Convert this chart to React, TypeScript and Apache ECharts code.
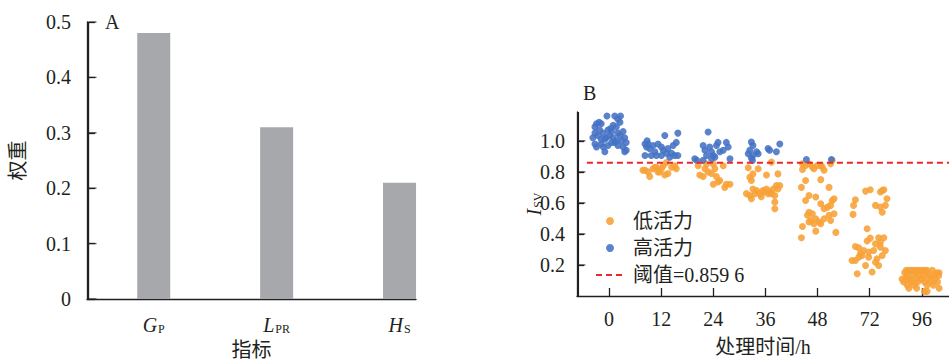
import React, { useEffect, useRef } from "react";
import * as echarts from "echarts";

// ---- Panel A: indicator weights ----
const indicatorMain = ["G", "L", "H"];
const indicatorSub = ["P", "PR", "S"];
const weights = [0.48, 0.31, 0.21];
const weightTicks = [0, 0.1, 0.2, 0.3, 0.4, 0.5];

// ---- Panel B: I_SV by treatment time ----
const hours = ["0", "12", "24", "36", "48", "72", "96"];
const isvTicks = [0.2, 0.4, 0.6, 0.8, 1.0];
const threshold = 0.8596;

// each point: [offset within the time group, I_SV]
const high0 = [
  [-0.24, 1.11], [-0.27, 1.09], [-0.19, 1.12], [-0.15, 1.11], [-0.04, 1.16], [0.11, 1.16],
  [0.22, 1.16], [0.17, 1.14], [0.21, 1.12], [0.08, 1.1], [0.14, 1.09], [0.03, 1.08],
  [-0.27, 1.05], [-0.21, 1.035], [-0.11, 1.05], [-0.05, 1.02], [0.01, 1.035], [-0.08, 1.01],
  [0.08, 1.02], [0.17, 1.05], [0.27, 1.06], [0.3, 1.02], [0.24, 1.0], [-0.27, 0.98],
  [-0.24, 0.96], [-0.15, 0.98], [-0.02, 0.97], [0.11, 0.99], [0.17, 0.97], [0.27, 0.96],
  [-0.08, 0.93], [0.3, 0.93], [0.33, 0.94], [0.14, 1.0], [-0.15, 1.01], [0.05, 1.06],
  [0.21, 1.035], [-0.18, 1.07], [-0.31, 1.02], [-0.02, 1.07], [-0.11, 0.96], [0.05, 0.99],
  [0.33, 0.99],
];
const high12 = [
  [-0.31, 0.98], [-0.27, 1.0], [-0.28, 0.96], [-0.22, 0.95], [-0.155, 0.97], [-0.06, 0.98],
  [0.005, 0.96], [0.07, 1.035], [0.04, 0.94], [0.13, 0.95], [0.2, 0.92], [0.23, 0.97],
  [0.29, 0.99], [0.32, 1.05], [-0.31, 0.906], [-0.19, 0.906], [-0.09, 0.906], [0.005, 0.906],
  [0.1, 0.92], [0.26, 0.906], [0.32, 0.906], [0.165, 0.895], [-0.25, 0.98], [-0.12, 0.93],
];
const low12 = [
  [-0.35, 0.81], [-0.25, 0.8], [-0.22, 0.77], [-0.155, 0.82], [-0.09, 0.83], [-0.06, 0.8],
  [0.005, 0.82], [0.07, 0.78], [0.13, 0.79], [0.2, 0.83], [0.26, 0.84], [0.29, 0.82],
  [0.04, 0.84], [0.1, 0.86], [-0.31, 0.81], [-0.12, 0.83], [-0.03, 0.8],
];
const high24 = [
  [-0.355, 0.885], [-0.32, 0.875], [-0.195, 0.97], [-0.16, 0.94], [-0.13, 0.906], [-0.07, 0.96],
  [-0.035, 0.93], [0.0, 0.906], [-0.1, 1.057], [0.06, 0.97], [0.09, 0.99], [0.125, 0.93],
  [0.19, 0.94], [0.25, 0.99], [0.285, 0.96], [0.32, 0.885], [0.03, 0.895], [-0.195, 0.875],
  [-0.035, 0.885],
];
const low24 = [
  [-0.29, 0.84], [-0.26, 0.78], [-0.16, 0.82], [-0.13, 0.85], [-0.1, 0.8], [-0.035, 0.79],
  [0.0, 0.85], [0.03, 0.82], [0.0, 0.72], [0.09, 0.735], [0.125, 0.745], [0.19, 0.84],
  [0.22, 0.7], [0.25, 0.72], [0.32, 0.72], [-0.195, 0.77], [0.06, 0.77],
];
const high36 = [
  [-0.33, 0.917], [-0.3, 0.94], [-0.27, 0.992], [-0.24, 0.97], [-0.27, 0.89], [-0.17, 0.93],
  [-0.14, 0.917], [-0.25, 0.874], [0.05, 0.95], [0.08, 0.94], [0.21, 0.93], [0.275, 0.98],
  [-0.24, 0.906],
];
const low36 = [
  [-0.33, 0.827], [-0.3, 0.765], [-0.27, 0.745], [-0.24, 0.787], [-0.14, 0.82], [-0.365, 0.66],
  [-0.3, 0.648], [-0.27, 0.627], [-0.24, 0.69], [-0.17, 0.68], [-0.11, 0.66], [-0.05, 0.68],
  [0.02, 0.69], [0.05, 0.66], [0.08, 0.67], [0.115, 0.863], [0.15, 0.69], [0.18, 0.648],
  [0.18, 0.605], [0.18, 0.562], [0.21, 0.712], [0.24, 0.69], [0.275, 0.712], [0.24, 0.787],
  [0.02, 0.78], [0.115, 0.66], [-0.2, 0.66], [-0.08, 0.64], [-0.02, 0.67],
];
const high48 = [
  [-0.215, 0.88], [0.265, 0.88],
];
const low48 = [
  [-0.29, 0.853], [-0.29, 0.816], [-0.23, 0.842], [-0.165, 0.853], [-0.1, 0.831], [-0.07, 0.82],
  [0.0, 0.842], [0.06, 0.842], [0.09, 0.831], [0.125, 0.81], [0.25, 0.853], [0.28, 0.874],
  [-0.23, 0.745], [0.06, 0.75], [0.22, 0.7], [-0.31, 0.7], [-0.165, 0.648], [-0.035, 0.638],
  [-0.23, 0.616], [0.06, 0.595], [0.125, 0.563], [0.19, 0.573], [0.25, 0.584], [0.28, 0.616],
  [0.315, 0.627], [-0.165, 0.54], [-0.195, 0.52], [-0.1, 0.53], [-0.13, 0.487], [-0.035, 0.498],
  [0.03, 0.477], [0.06, 0.466], [0.125, 0.498], [0.22, 0.52], [0.25, 0.487], [0.315, 0.53],
  [-0.29, 0.448], [-0.035, 0.418], [-0.31, 0.375], [0.35, 0.41], [-0.165, 0.477], [-0.07, 0.466],
];
const low72 = [
  [-0.08, 0.676], [0.01, 0.685], [0.205, 0.67], [0.24, 0.68], [0.27, 0.685], [0.33, 0.627],
  [0.11, 0.584], [0.205, 0.573], [0.3, 0.584], [0.24, 0.54], [-0.275, 0.62], [-0.31, 0.584],
  [-0.32, 0.526], [-0.05, 0.433], [-0.275, 0.319], [-0.21, 0.31], [-0.18, 0.272], [-0.115, 0.293],
  [-0.05, 0.354], [0.01, 0.373], [-0.02, 0.283], [-0.02, 0.25], [-0.34, 0.229], [-0.275, 0.229],
  [-0.08, 0.197], [-0.24, 0.143], [0.045, 0.155], [0.17, 0.375], [0.27, 0.375], [0.3, 0.293],
  [0.205, 0.315], [0.24, 0.261], [0.14, 0.24], [0.11, 0.218], [0.17, 0.197], [0.075, 0.293],
  [0.11, 0.336], [0.205, 0.346], [-0.145, 0.261], [-0.21, 0.25],
];
const low96 = [
  [-0.3, 0.165], [-0.25, 0.165], [-0.2, 0.165], [-0.15, 0.165], [-0.1, 0.165], [-0.05, 0.165],
  [0.0, 0.165], [0.05, 0.165], [0.1, 0.165], [0.2, 0.165], [-0.33, 0.15], [-0.12, 0.15],
  [0.08, 0.15], [0.28, 0.15], [0.33, 0.15], [-0.28, 0.13], [-0.18, 0.13], [-0.05, 0.13],
  [0.02, 0.13], [0.15, 0.13], [0.22, 0.13], [0.32, 0.13], [-0.38, 0.11], [-0.3, 0.11],
  [-0.22, 0.11], [-0.1, 0.11], [0.0, 0.11], [0.12, 0.11], [0.25, 0.11], [-0.35, 0.09],
  [-0.2, 0.09], [-0.08, 0.09], [0.05, 0.09], [0.18, 0.09], [0.3, 0.09], [-0.28, 0.07],
  [-0.15, 0.07], [0.1, 0.07], [0.22, 0.07], [-0.25, 0.05], [-0.1, 0.05], [0.33, 0.05],
  [0.05, 0.03], [0.1, 0.03],
];

const highGroups: [number, number[][]][] = [
  [0, high0], [1, high12], [2, high24], [3, high36], [4, high48],
];
const lowGroups: [number, number[][]][] = [
  [1, low12], [2, low24], [3, low36], [4, low48], [5, low72], [6, low96],
];

// Horizontal layout: category slot i sits at x = i + lead on a value axis starting at 0.
const leadA = 0.543;
const spanA = 2.677;
const leadB = 0.614;
const spanB = 7.134;
const maxA = 0.5;
const maxB = 1.186;
// the spine sits a hair inside each grid's left edge
const spineA = 0.012;
const spineB = 0.026;

const place = (groups: [number, number[][]][]) =>
  groups.flatMap(([g, pts]) => pts.map(([dx, y]) => [leadB + g + dx, y]));

const SERIF = "Liberation Serif, Noto Sans CJK SC, serif";
const INK = "#231f20";
const ORANGE = "#f7a035";
const BLUE = "#4472c4";
const RED = "#e8282b";

const makeAxisLine = () => ({
  show: true,
  lineStyle: { color: INK, width: 1.3 },
});

// Left spine of a panel plus its inward ticks.
const spineSeries = (axis: number, x: number, top: number, ticks: number[], len: number) => [
  {
    type: "line",
    xAxisIndex: axis,
    yAxisIndex: axis,
    data: [[x, 0], [x, top]],
    symbol: "none",
    clip: false,
    silent: true,
    lineStyle: { color: INK, width: 1.4 },
    z: 5,
  },
  {
    type: "scatter",
    xAxisIndex: axis,
    yAxisIndex: axis,
    data: ticks.map((t) => [x, t]),
    symbol: "rect",
    symbolSize: [len, 1.3],
    symbolOffset: [len / 2, 0],
    clip: false,
    silent: true,
    itemStyle: { color: INK },
    z: 5,
  },
];

export default function App() {
  const ref = useRef<HTMLDivElement>(null);

  useEffect(() => {
    if (!ref.current) return;
    const chart = echarts.init(ref.current, undefined, { renderer: "svg" });

    const labelText = () => ({ color: INK, fontFamily: SERIF, fontSize: 20 });
    const subRich = () => ({
      it: { fontStyle: "italic", fontFamily: SERIF, fontSize: 20, color: INK },
      sub: {
        fontFamily: SERIF, fontSize: 12, color: INK,
        verticalAlign: "bottom", lineHeight: 12, padding: [0, 0, 0, 1],
      },
    });
    const slotsA = indicatorMain.map((_, i) => leadA + i);
    const slotsB = hours.map((_, i) => leadB + i);
    const slotIndex = (slots: number[], v: number) =>
      slots.findIndex((s) => Math.abs(s - v) < 1e-6);

    chart.setOption({
      animation: false,
      grid: [
        { left: 87, top: 22, width: 329, height: 277, outerBoundsMode: "none" },
        { left: 577, top: 112, width: 372, height: 184, outerBoundsMode: "none" },
      ],
      xAxis: [
        {
          gridIndex: 0,
          type: "value",
          min: 0,
          max: spanA,
          splitLine: { show: false },
          axisLine: makeAxisLine(),
          axisTick: { show: false },
          axisLabel: {
            ...labelText(),
            customValues: slotsA,
            margin: 16,
            formatter: (v: number) => {
              const i = slotIndex(slotsA, v);
              return `{it|${indicatorMain[i]}}{sub|${indicatorSub[i]}}`;
            },
            rich: subRich(),
          },
          name: "指标",
          nameLocation: "middle",
          nameGap: 41,
          nameMoveOverlap: false,
          nameTextStyle: labelText(),
        },
        {
          gridIndex: 1,
          type: "value",
          min: 0,
          max: spanB,
          splitLine: { show: false },
          axisLine: makeAxisLine(),
          axisTick: { show: true, inside: true, length: 8, customValues: slotsB, lineStyle: { color: INK, width: 1.3 } },
          axisLabel: {
            ...labelText(),
            customValues: slotsB,
            margin: 13,
            formatter: (v: number) => hours[slotIndex(slotsB, v)],
          },
          name: "处理时间/h",
          nameLocation: "middle",
          nameGap: 41,
          nameMoveOverlap: false,
          nameTextStyle: labelText(),
        },
      ],
      yAxis: [
        {
          gridIndex: 0,
          type: "value",
          min: 0,
          max: maxA,
          splitLine: { show: false },
          axisLine: makeAxisLine(),
          axisTick: { show: true, inside: true, length: 8, customValues: weightTicks, lineStyle: { color: INK, width: 1.3 } },
          axisLabel: {
            ...labelText(),
            margin: 16,
            customValues: weightTicks,
            formatter: (v: number) => (v === 0 ? "0" : v.toFixed(1)),
          },
          name: "权重",
          nameLocation: "middle",
          nameRotate: 90,
          nameGap: 59,
          nameMoveOverlap: false,
          nameTextStyle: labelText(),
        },
        {
          gridIndex: 1,
          type: "value",
          min: 0,
          max: maxB,
          splitLine: { show: false },
          axisLine: makeAxisLine(),
          axisTick: { show: true, inside: true, length: 7, customValues: isvTicks, lineStyle: { color: INK, width: 1.3 } },
          axisLabel: {
            ...labelText(),
            margin: 12,
            customValues: isvTicks,
            formatter: (v: number) => v.toFixed(1),
          },
          name: "{it|I}{sub|SV}",
          nameLocation: "middle",
          nameRotate: 90,
          nameGap: 33,
          nameMoveOverlap: false,
          nameTextStyle: { ...labelText(), rich: subRich() },
        },
      ],
      legend: {
        orient: "vertical",
        left: 590,
        top: 206,
        itemWidth: 28,
        itemHeight: 8,
        itemGap: 7,
        textStyle: { ...labelText(), padding: [0, 0, 0, 4] },
        data: ["低活力", "高活力", "阈值=0.859 6"],
      },
      series: [
        {
          type: "bar",
          xAxisIndex: 0,
          yAxisIndex: 0,
          barWidth: 33,
          itemStyle: { color: "#a7a8ab" },
          data: weights.map((w, i) => [slotsA[i], w]),
        },
        ...spineSeries(0, spineA, maxA, weightTicks, 8),
        ...spineSeries(1, spineB, maxB, isvTicks, 7),
        {
          name: "低活力",
          type: "scatter",
          xAxisIndex: 1,
          yAxisIndex: 1,
          symbolSize: 7,
          itemStyle: { color: ORANGE, opacity: 0.88 },
          data: place(lowGroups),
        },
        {
          name: "高活力",
          type: "scatter",
          xAxisIndex: 1,
          yAxisIndex: 1,
          symbolSize: 7,
          itemStyle: { color: BLUE, opacity: 0.88 },
          data: place(highGroups),
        },
        {
          name: "阈值=0.859 6",
          type: "line",
          xAxisIndex: 1,
          yAxisIndex: 1,
          symbol: "none",
          itemStyle: { color: RED, opacity: 0 },
          lineStyle: { color: RED, width: 2, type: [6, 4] },
          data: [[0.19, threshold], [spanB, threshold]],
          z: 3,
        },
      ],
      graphic: [
        { type: "text", left: 105, top: 12, style: { text: "A", font: `20px ${SERIF}`, fill: INK } },
        { type: "text", left: 583, top: 83, style: { text: "B", font: `20px ${SERIF}`, fill: INK } },
      ],
    });

    return () => chart.dispose();
  }, []);

  return (
    <div
      ref={ref}
      style={{ position: "fixed", left: 0, top: 0, width: 949, height: 363, background: "#fff" }}
    />
  );
}
